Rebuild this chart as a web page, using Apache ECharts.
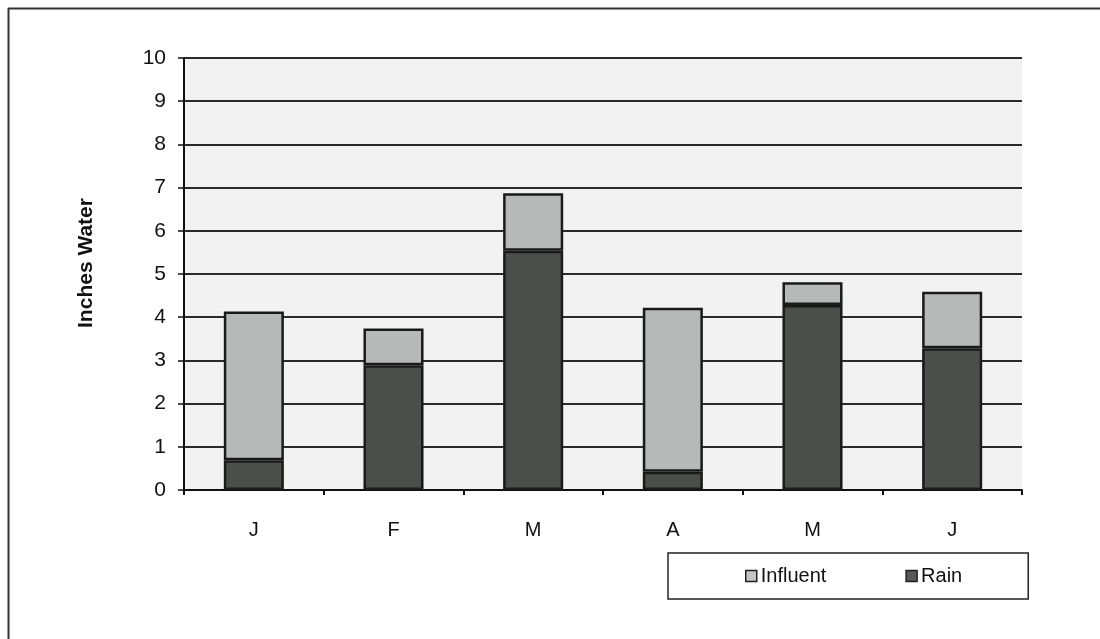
<!DOCTYPE html>
<html>
<head>
<meta charset="utf-8">
<script src="https://cdn.jsdelivr.net/npm/echarts@6/dist/echarts.min.js"></script>
<style>
html,body{margin:0;padding:0;background:#fff;}
#chart{width:1100px;height:639px;}
</style>
</head>
<body>
<div id="chart"></div>
<script>
var categories = ['J', 'F', 'M', 'A', 'M', 'J'];
var rainValues = [0.69, 2.89, 5.54, 0.42, 4.28, 3.28];
var influentValues = [3.44, 0.85, 1.33, 3.80, 0.53, 1.31];
var yTicks = [0, 1, 2, 3, 4, 5, 6, 7, 8, 9, 10];
var yTitle = 'Inches Water';

var chart = echarts.init(document.getElementById('chart'), null, {renderer: 'canvas'});
var font = 'Liberation Sans, Arial, sans-serif';
chart.setOption({
  backgroundColor: '#ffffff',
  animation: false,
  grid: {left: 184, right: 78, top: 58, bottom: 149, show: true, backgroundColor: '#f2f2f2', borderWidth: 0},
  xAxis: {
    type: 'category',
    data: categories,
    boundaryGap: true,
    axisLine: {show: true, lineStyle: {color: '#111', width: 2}},
    axisTick: {show: true, length: 5, lineStyle: {color: '#111', width: 2}},
    axisLabel: {color: '#111', fontSize: 20, fontFamily: font, margin: 30}
  },
  yAxis: {
    type: 'value',
    min: yTicks[0], max: yTicks[yTicks.length - 1], interval: 1,
    axisLine: {show: true, lineStyle: {color: '#111', width: 2}},
    axisTick: {show: true, length: 6, lineStyle: {color: '#111', width: 1.5}},
    axisLabel: {color: '#111', fontSize: 21, fontFamily: font, margin: 18},
    splitLine: {show: true, lineStyle: {color: '#2a2a2a', width: 2}}
  },
  legend: {
    left: 668, top: 553,
    padding: [13, 66, 13, 77],
    itemGap: 79,
    itemWidth: 11, itemHeight: 11,
    borderColor: '#222', borderWidth: 1.5,
    backgroundColor: '#ffffff',
    textStyle: {color: '#111', fontSize: 20, fontFamily: font, padding: [0, 0, 0, -1]},
    data: [
      {name: 'Influent', icon: 'rect', itemStyle: {color: '#c4c4c4', borderColor: '#222', borderWidth: 1.5}},
      {name: 'Rain', icon: 'rect', itemStyle: {color: '#555955', borderColor: '#222', borderWidth: 1.5}}
    ]
  },
  series: [
    {
      name: 'Rain', type: 'bar', stack: 'total', data: rainValues,
      barWidth: '43%',
      itemStyle: {color: '#4b4f4b', borderColor: '#1a1a1a', borderWidth: 2.5}
    },
    {
      name: 'Influent', type: 'bar', stack: 'total', data: influentValues,
      barWidth: '43%',
      itemStyle: {color: '#b7b9b8', borderColor: '#1a1a1a', borderWidth: 2.5}
    }
  ],
  graphic: [
    {type: 'line', shape: {x1: 8.5, y1: 8, x2: 8.5, y2: 639}, style: {stroke: '#333', lineWidth: 2}},
    {type: 'line', shape: {x1: 8, y1: 8.5, x2: 1100, y2: 8.5}, style: {stroke: '#333', lineWidth: 2}},
    {type: 'text', x: 86, y: 263, rotation: Math.PI / 2,
     style: {text: yTitle, fill: '#111', font: 'bold 21px ' + font, textAlign: 'center', textVerticalAlign: 'middle'}}
  ]
});
</script>
</body>
</html>
